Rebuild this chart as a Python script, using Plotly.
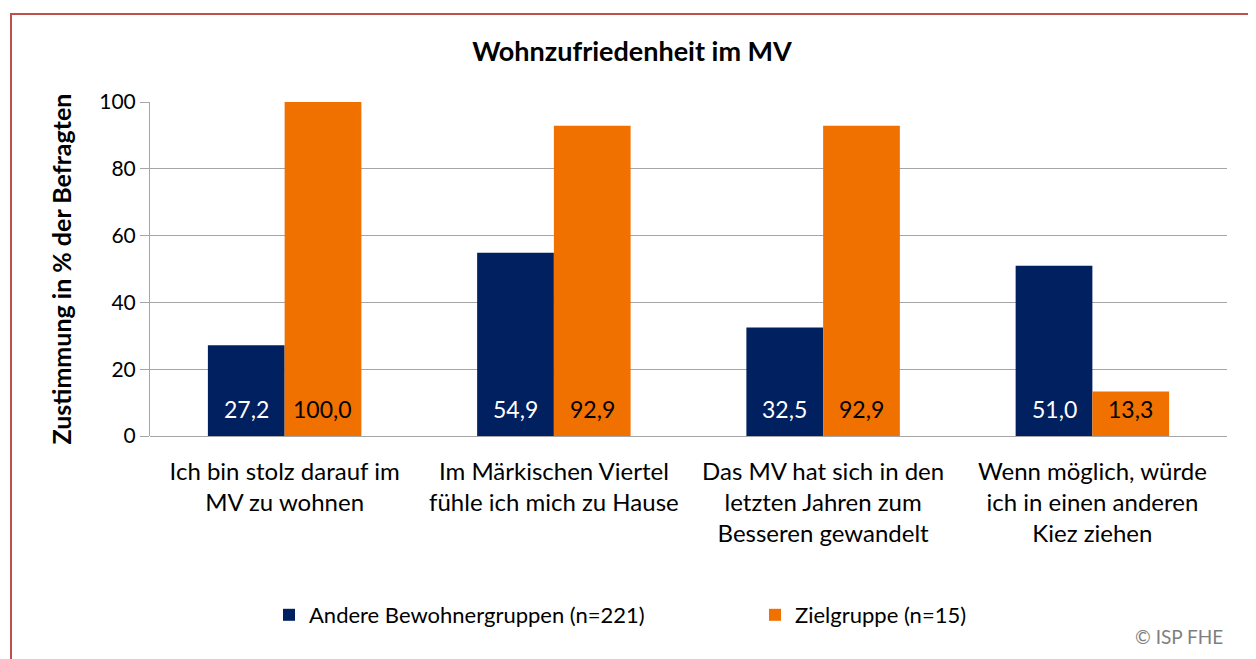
import plotly.graph_objects as go

categories = [
    "Ich bin stolz darauf im<br>MV zu wohnen",
    "Im Märkischen Viertel<br>fühle ich mich zu Hause",
    "Das MV hat sich in den<br>letzten Jahren zum<br>Besseren gewandelt",
    "Wenn möglich, würde<br>ich in einen anderen<br>Kiez ziehen",
]
andere = [27.2, 54.9, 32.5, 51.0]
ziel = [100.0, 92.9, 92.9, 13.3]
series_names = ["Andere Bewohnergruppen (n=221)", "Zielgruppe (n=15)"]
y_ticks = [0, 20, 40, 60, 80, 100]

FONT = "Lato"
BLUE, ORANGE = "#002060", "#F07000"

def fmt(v):
    return f"{v:.1f}".replace(".", ",")

# page body has an 8px margin: reference pixel (x, y) -> figure pixel (x-8, y-8)
OFF = 8
W, H = 1256 - OFF, 659 - OFF
L = 150 - OFF
T = 102 - OFF
R = W - (1227 - OFF)
B = H - (436 - OFF)
pw, ph = W - L - R, H - T - B
BARGAP = 0.43

def px_x(x_ref):
    return (x_ref - OFF - L) / pw

def px_y(y_ref):
    return (H - B - (y_ref - OFF)) / ph

fig = go.Figure()
fig.add_trace(go.Bar(
    x=categories, y=andere, name=series_names[0],
    marker=dict(color=BLUE, line=dict(width=0)), legend="legend",
))
fig.add_trace(go.Bar(
    x=categories, y=ziel, name=series_names[1],
    marker=dict(color=ORANGE, line=dict(width=0)), legend="legend2",
))

# value labels near the bottom of each bar
cat_w = pw / len(categories)
bar_w = cat_w * (1 - BARGAP) / 2
for vals, color, sign in ((andere, "white", -1), (ziel, "black", 1)):
    for c, v in zip(categories, vals):
        fig.add_annotation(x=c, y=0, xref="x", yref="y", text=fmt(v),
                           showarrow=False, xanchor="center", yanchor="bottom",
                           xshift=sign * bar_w / 2, yshift=11,
                           font=dict(size=23, family=FONT, color=color))

fig.update_layout(
    width=W, height=H,
    margin=dict(l=L, r=R, t=T, b=B),
    paper_bgcolor="white", plot_bgcolor="white",
    font=dict(family=FONT, color="black"),
    barmode="group", bargap=BARGAP, bargroupgap=0,
    title=dict(text="<b>Wohnzufriedenheit im MV</b>", x=0.5, xanchor="center",
               y=1 - (52 - OFF) / H, yanchor="middle",
               font=dict(size=27, family=FONT, color="black")),
    xaxis=dict(showgrid=False, ticks="", showline=False, ticklabelstandoff=19,
               tickfont=dict(size=24, family=FONT, color="black")),
    yaxis=dict(range=[0, 100], tickvals=y_ticks, showgrid=True,
               gridcolor="#A6A6A6", gridwidth=1,
               showline=True, linecolor="#A6A6A6", linewidth=1,
               ticks="outside", ticklen=9, tickcolor="#A6A6A6",
               zeroline=True, zerolinecolor="#A6A6A6", zerolinewidth=1,
               tickfont=dict(size=21, family=FONT, color="black"),
               title=dict(text="<b>Zustimmung in % der Befragten</b>",
                          font=dict(size=25, family=FONT, color="black"),
                          standoff=20)),
    legend=dict(orientation="h", x=px_x(269), xanchor="left",
                y=px_y(615), yanchor="middle",
                font=dict(size=22, family=FONT, color="black"),
                bgcolor="rgba(0,0,0,0)"),
    legend2=dict(orientation="h", x=px_x(755), xanchor="left",
                 y=px_y(615), yanchor="middle",
                 font=dict(size=22, family=FONT, color="black"),
                 bgcolor="rgba(0,0,0,0)"),
    showlegend=True,
)

fig.add_shape(type="rect", xref="paper", yref="paper",
              x0=px_x(11), x1=px_x(1290), y0=px_y(700), y1=px_y(14),
              line=dict(color="#C0504D", width=2), fillcolor="rgba(0,0,0,0)",
              layer="below")

fig.add_annotation(text="© ISP FHE", xref="paper", yref="paper",
                   x=px_x(1225), y=px_y(636), xanchor="right", yanchor="middle",
                   showarrow=False, font=dict(size=19, family=FONT, color="#7F7F7F"))

fig.write_html("out.html")
